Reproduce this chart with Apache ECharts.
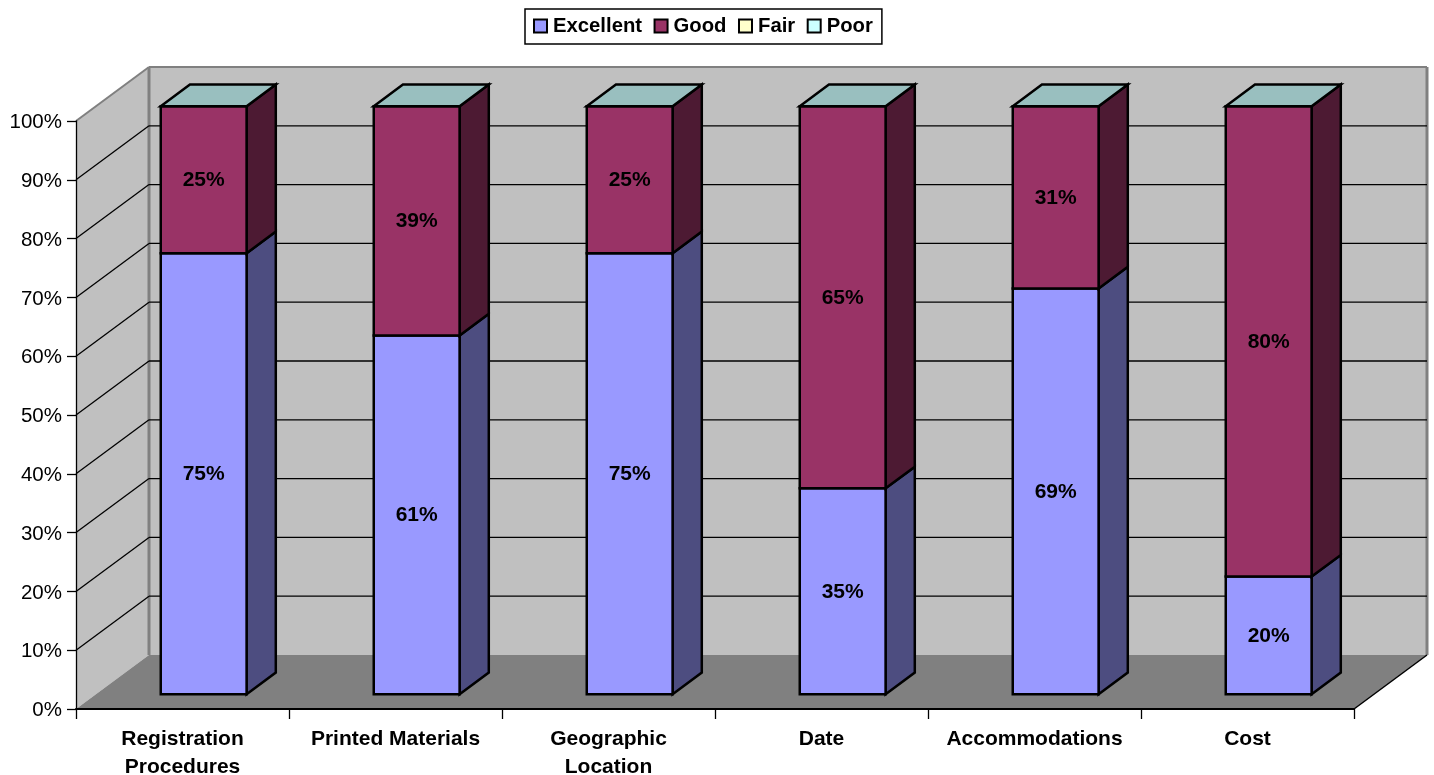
<!DOCTYPE html>
<html><head><meta charset="utf-8">
<style>html,body{margin:0;padding:0;background:#fff}#c{width:1434px;height:775px}</style>
<script src="https://cdn.jsdelivr.net/npm/echarts@6/dist/echarts.min.js"></script>
</head><body><div id="c"></div>
<script>
var categories = ['Registration\nProcedures','Printed Materials','Geographic\nLocation','Date','Accommodations','Cost'];
var excellent = [75,61,75,35,69,20];
var good = [25,39,25,65,31,80];
var fair = [0,0,0,0,0,0];
var poor = [0,0,0,0,0,0];
var yTicks = [0,10,20,30,40,50,60,70,80,90,100];

var FONT = '"Liberation Sans", Arial, sans-serif';
var DX = 73, DY = 54;           // chart-box depth in pixels
var FRONT = 0.29, BACK = 0.69;  // bar depth range within the box (x)
var FRONT_Y = 0.275;            // front depth of bars in y
var BAR_W = 0.403;              // bar width as a share of a category band

var names = ['Excellent','Good','Fair','Poor'];
var values = [excellent, good, fair, poor];
var colors = ['#9999FF','#993366','#FFFFCC','#CCFFFF'];
var sideColors = ['#4D4D80','#4D1A33','#808066','#668080'];
var topColors = ['#7373BF','#73264D','#BFBF99','#99BFBF'];

function stackedRows(k){
  return categories.map(function(_, i){
    var base = 0;
    for (var s = 0; s < k; s++) base += values[s][i];
    return [i, base, base + values[k][i]];
  });
}
function poly(points, fill, stroke, lw){
  return {type:'polygon', shape:{points:points}, style:{fill:fill, stroke:stroke||'none', lineWidth:lw||0, lineJoin:'miter'}};
}
function line(a, b, stroke, lw){
  return {type:'line', shape:{x1:a[0],y1:a[1],x2:b[0],y2:b[1]}, style:{stroke:stroke, lineWidth:lw}, silent:true};
}
function renderWalls(params, api){
  var n = categories.length, band = api.size([1,0])[0];
  var p0 = api.coord([0,0]), p1 = api.coord([n-1,100]), pr = api.coord([n-1,0]);
  var l = p0[0]-band/2, r = pr[0]+band/2, b = p0[1], t = p1[1];
  return {type:'group', children:[
    poly([[l,b],[l,t],[l+DX,t-DY],[l+DX,b-DY]], '#C0C0C0'),
    poly([[l+DX,t-DY],[r+DX,t-DY],[r+DX,b-DY],[l+DX,b-DY]], '#C0C0C0'),
    poly([[l,b],[l+DX,b-DY],[r+DX,b-DY],[r,b]], '#808080'),
    line([l,t],[l+DX,t-DY],'#808080',2),
    line([l+DX,t-DY],[r+DX,t-DY],'#808080',2),
    line([l+DX,t-DY],[l+DX,b-DY],'#808080',3),
    line([r+DX,t-DY],[r+DX,b-DY],'#808080',3),
    line([r,b],[r+DX,b-DY],'#000',1.5)
  ]};
}
function renderGrid(params, api){
  var v = api.value(1), n = categories.length, band = api.size([1,0])[0];
  if (v <= 0 || v >= 100) return null;
  var a = api.coord([0,v]), e = api.coord([n-1,v]);
  var l = a[0]-band/2, r = e[0]+band/2, y = a[1];
  return {type:'group', children:[
    line([l,y],[l+DX,y-DY],'#000',1.3),
    line([l+DX,y-DY],[r+DX,y-DY],'#000',1.3)
  ]};
}
function makeRender(k){
  return function(params, api){
    var i = api.value(0), lo = api.value(1), hi = api.value(2);
    var band = api.size([1,0])[0];
    var c0 = api.coord([i,lo]), c1 = api.coord([i,hi]);
    var left = c0[0]-band/2;
    var fx = (band-BAR_W*band)/2;
    var x0 = left + fx + FRONT*DX, x1 = x0 + BAR_W*band;
    var fy = FRONT_Y*DY, bdx = (BACK-FRONT)*DX, bdy = (BACK-FRONT)*DY;
    var yb = c0[1]-fy, yt = c1[1]-fy;
    var kids = [];
    if (hi > lo){
      kids.push(poly([[x1,yb],[x1+bdx,yb-bdy],[x1+bdx,yt-bdy],[x1,yt]], sideColors[k], '#000', 2.5));
      kids.push(poly([[x0,yb],[x1,yb],[x1,yt],[x0,yt]], colors[k], '#000', 2.5));
      kids.push({type:'text', style:{x:(x0+x1)/2, y:(yb+yt)/2+0.5, text:(hi-lo)+'%', fill:'#000',
        font:'bold 21px '+FONT, align:'center', verticalAlign:'middle'}});
    }
    if (k === names.length-1){
      kids.push(poly([[x0,yt],[x1,yt],[x1+bdx,yt-bdy],[x0+bdx,yt-bdy]], topColors[k], '#000', 2.5));
    }
    return {type:'group', children:kids};
  };
}

var series = [
  {name:'walls', type:'custom', z:1, silent:true, renderItem:renderWalls, data:[[0,0]], encode:{x:0,y:1}},
  {name:'grid', type:'custom', z:2, silent:true, renderItem:renderGrid,
    data:yTicks.map(function(v){return [0,v];}), encode:{x:0,y:1}}
];
names.forEach(function(nm,k){
  series.push({name:nm, type:'custom', z:3+k, renderItem:makeRender(k), data:stackedRows(k), encode:{x:0,y:[1,2]},
    itemStyle:{color:colors[k], borderColor:'#000', borderWidth:2.5}});
});

var chart = echarts.init(document.getElementById('c'), null, {renderer:'canvas'});
chart.setOption({
  animation:false,
  backgroundColor:'#fff',
  legend:{data:names, left:525, top:9, orient:'horizontal', selectedMode:false, icon:'rect',
    itemWidth:13, itemHeight:13, itemGap:11.5, padding:[7,9,8,8],
    borderColor:'#000', borderWidth:1.5, backgroundColor:'#fff',
    textStyle:{color:'#000', fontFamily:FONT, fontWeight:'bold', fontSize:20.3, padding:[0,0,0,1]}},
  grid:{left:76, right:80, top:121, bottom:66, outerBoundsMode:'none'},
  xAxis:{type:'category', data:categories, z:10, boundaryGap:true,
    axisLine:{show:true, lineStyle:{color:'#000', width:2}},
    axisTick:{show:true, length:10, alignWithLabel:false, lineStyle:{color:'#000', width:1.3}},
    splitLine:{show:false},
    axisLabel:{interval:0, color:'#000', fontFamily:FONT, fontWeight:'bold', fontSize:21, margin:16,
      lineHeight:28, hideOverlap:false}},
  yAxis:{type:'value', min:0, max:100, interval:10, z:10,
    axisLine:{show:true, lineStyle:{color:'#000', width:1.3}},
    axisTick:{show:true, length:9, lineStyle:{color:'#000', width:1.3}},
    splitLine:{show:false},
    axisLabel:{formatter:function(v){return '{v|'+v+'%}';}, margin:14, showMinLabel:true, showMaxLabel:true,
      rich:{v:{color:'#000', fontFamily:FONT, fontSize:20.5, padding:[3,0,0,0]}}}},
  series:series
});
</script></body></html>
